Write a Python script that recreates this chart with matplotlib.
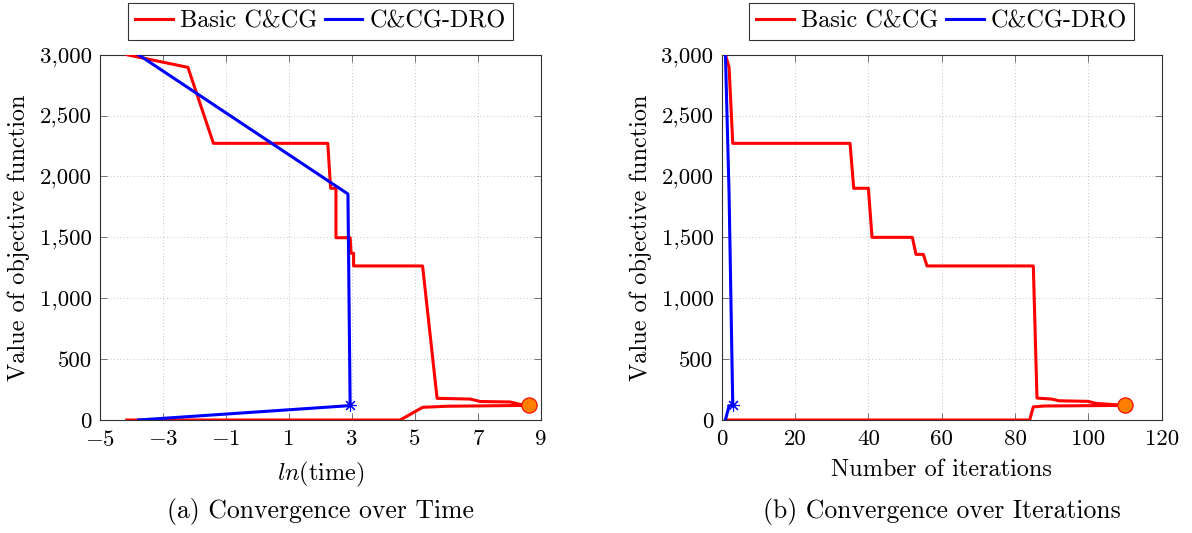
import numpy as np
import matplotlib.pyplot as plt
from matplotlib.ticker import FuncFormatter, MultipleLocator, FixedLocator

plt.rcParams['font.family'] = ['cmr10', 'DejaVu Serif']
plt.rcParams['mathtext.fontset'] = 'cm'
plt.rcParams['axes.unicode_minus'] = False

# (a) objective vs ln(time)
basic_t_ub = [-4.15, -2.21, -1.40, 2.23, 2.32, 2.49, 2.49, 2.94, 2.97, 3.05, 3.05, 5.24, 5.70, 6.75, 7.07, 8.02, 8.34, 8.63]
basic_ub_t = [3000, 2896, 2272, 2272, 1903, 1903, 1497, 1497, 1369, 1369, 1265, 1265, 178, 172, 152, 148, 128, 120]
basic_t_lb = [-4.15, 4.53, 5.24, 6.00, 8.63]
basic_lb_t = [0, 0, 104, 113, 120]
dro_t = [-3.78, 2.87, 2.94]
dro_ub_t = [3000, 1856, 120]
dro_lb_t = [0, 117, 120]

# (b) objective vs iteration
basic_it_ub = [1, 2, 3, 35, 36, 40, 41, 52, 53, 55, 56, 85, 86, 90, 92, 100, 102, 110]
basic_ub_it = [3000, 2896, 2272, 2272, 1903, 1903, 1500, 1500, 1360, 1360, 1265, 1265, 180, 172, 158, 153, 137, 120]
basic_it_lb = [1, 84, 85, 88, 110]
basic_lb_it = [0, 0, 108, 115, 120]
dro_it = [1, 2, 3]
dro_ub_it = [3000, 1856, 120]
dro_lb_it = [0, 117, 120]

time_ticks = [-5, -3, -1, 1, 3, 5, 7, 9]

RED = '#ff0000'
BLUE = '#0000ff'
FS_TICK = 16.5
FS_LAB = 17.5
FS_LEG = 17.5
FS_CAP = 18.5

fig = plt.figure(figsize=(11.92, 5.33), dpi=100)
ax1 = fig.add_axes([0.0839, 0.212, 0.370, 0.6854])
ax2 = fig.add_axes([0.6055, 0.212, 0.369, 0.6854])

star = (8, 2, 0)


def draw(ax, xb_ub, yb_ub, xb_lb, yb_lb, xd, yd_ub, yd_lb):
    ax.plot(xb_ub, yb_ub, color=RED, lw=2.2, label='Basic C&CG', zorder=3)
    ax.plot(xb_lb, yb_lb, color=RED, lw=2.2, zorder=3)
    ax.plot(xd, yd_ub, color=BLUE, lw=2.2, label='C&CG-DRO', zorder=4)
    ax.plot(xd, yd_lb, color=BLUE, lw=2.2, zorder=4)
    ax.plot(xd[-1], yd_ub[-1], marker=star, ms=9, mec=BLUE, mew=0.8, ls='none', zorder=5)
    ax.plot(xb_ub[-1], yb_ub[-1], marker='o', ms=11, mfc='#ff8000', mec=RED, mew=0.8, ls='none', zorder=5)
    ax.set_ylim(0, 3000)
    ax.yaxis.set_major_locator(MultipleLocator(500))
    ax.yaxis.set_major_formatter(FuncFormatter(lambda v, p: format(int(v), ',')))
    ax.grid(True, ls=(0, (1, 3)), lw=0.6, color='#b0b0b0')
    ax.tick_params(direction='in', top=True, right=True, length=5, width=0.6,
                   color='#606060', labelsize=FS_TICK)
    ax.tick_params(axis='x', pad=7)
    ax.tick_params(axis='y', pad=6)
    for s in ax.spines.values():
        s.set_linewidth(0.8)
        s.set_color('#303030')
    ax.set_ylabel('Value of objective function', fontsize=FS_LAB, labelpad=7)
    leg = ax.legend(loc='lower center', bbox_to_anchor=(0.5, 1.04), ncol=2, fontsize=FS_LEG,
                    frameon=True, fancybox=False, edgecolor='black', handlelength=1.55,
                    columnspacing=0.3, handletextpad=0.3, borderpad=0.3, borderaxespad=0)
    leg.get_frame().set_linewidth(0.8)


draw(ax1, basic_t_ub, basic_ub_t, basic_t_lb, basic_lb_t, dro_t, dro_ub_t, dro_lb_t)
ax1.set_xlim(-5, 9)
ax1.xaxis.set_major_locator(FixedLocator(time_ticks))
ax1.xaxis.set_major_formatter(FuncFormatter(lambda v, p: '$%d$' % round(v) if v < 0 else '%d' % round(v)))
ax1.set_xlabel('$ln$(time)', fontsize=FS_LAB, labelpad=7)

draw(ax2, basic_it_ub, basic_ub_it, basic_it_lb, basic_lb_it, dro_it, dro_ub_it, dro_lb_it)
ax2.set_xlim(0, 120)
ax2.xaxis.set_major_locator(MultipleLocator(20))
ax2.set_xlabel('Number of iterations', fontsize=FS_LAB, labelpad=7)

fig.text(0.0839 + 0.370 / 2, 0.041, '(a) Convergence over Time', ha='center', va='center', fontsize=FS_CAP)
fig.text(0.6055 + 0.369 / 2, 0.041, '(b) Convergence over Iterations', ha='center', va='center', fontsize=FS_CAP)

fig.savefig('out.png', dpi=100)
